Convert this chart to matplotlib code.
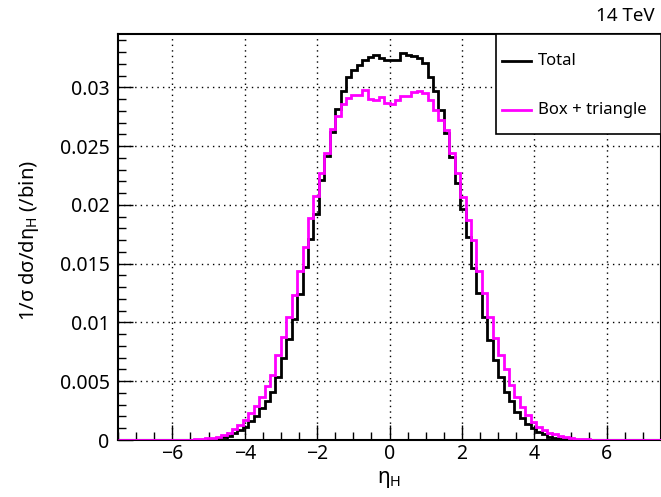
import numpy as np
import matplotlib
matplotlib.use("Agg")
import matplotlib.pyplot as plt
from matplotlib.ticker import MultipleLocator, FuncFormatter
from matplotlib.patches import Rectangle
from matplotlib.lines import Line2D

plt.rcParams['font.family'] = ['Noto Sans', 'DejaVu Sans']
plt.rcParams['mathtext.fontset'] = 'custom'
plt.rcParams['mathtext.rm'] = 'Noto Sans'

# histogram binning
eta_min, eta_max, n_bins = -7.5, 7.5, 100

total = [0, 0, 0, 0, 0, 0, 0, 0, 0, 0,
         0.000005, 0.00001, 0.00001, 0.00002, 0.00002, 0.00004, 0.00006, 0.0001, 0.00015, 0.00023,
         0.00037, 0.00057, 0.00085, 0.0011, 0.0016, 0.0020, 0.0027, 0.0033, 0.0041, 0.0054,
         0.0070, 0.0086, 0.0103, 0.0124, 0.0147, 0.0171, 0.0192, 0.0221, 0.0242, 0.0262,
         0.0282, 0.0297, 0.0309, 0.0315, 0.0319, 0.0323, 0.0326, 0.0328, 0.0325, 0.0323,
         0.0323, 0.0323, 0.0329, 0.0328, 0.0327, 0.0325, 0.0321, 0.0309, 0.0297, 0.0281,
         0.0261, 0.0241, 0.0219, 0.0197, 0.0173, 0.0146, 0.0125, 0.0105, 0.0085, 0.0068,
         0.0054, 0.0041, 0.0033, 0.0024, 0.00185, 0.00136, 0.0010, 0.0007, 0.00048, 0.00028,
         0.00018, 0.00012, 0.00008, 0.00005, 0.00003, 0.00002, 0.00001, 0.00001, 0, 0,
         0, 0, 0, 0, 0, 0, 0, 0, 0, 0]

box_triangle = [0, 0, 0, 0, 0, 0, 0, 0, 0, 0,
                0.00001, 0.00001, 0.00002, 0.00004, 0.00006, 0.00009, 0.00013, 0.0002, 0.00028, 0.00043,
                0.00062, 0.0009, 0.0013, 0.0017, 0.0023, 0.0029, 0.0037, 0.0046, 0.0055, 0.0072,
                0.0088, 0.0105, 0.0123, 0.0144, 0.01645, 0.0189, 0.0208, 0.0227, 0.0244, 0.0265,
                0.0276, 0.0286, 0.0291, 0.0294, 0.0294, 0.0298, 0.0290, 0.0289, 0.0292, 0.0287,
                0.0286, 0.0289, 0.0293, 0.0293, 0.0296, 0.0297, 0.0295, 0.0289, 0.0281, 0.0272,
                0.0264, 0.0244, 0.0227, 0.0207, 0.0187, 0.0170, 0.0144, 0.0125, 0.0105, 0.0087,
                0.0072, 0.0060, 0.0047, 0.0037, 0.0028, 0.0021, 0.00156, 0.00113, 0.00085, 0.00062,
                0.00048, 0.00034, 0.00023, 0.00016, 0.00011, 0.00007, 0.00005, 0.00003, 0.00002, 0.00001,
                0, 0, 0, 0, 0, 0, 0, 0, 0, 0]

labels = ["Total", "Box + triangle"]
colors = ["black", "#ff00ff"]
title_text = "14 TeV"

edges = np.linspace(eta_min, eta_max, n_bins + 1)

W, H = 661, 497
fig = plt.figure(figsize=(W / 100, H / 100), dpi=100)
ax = fig.add_axes([118 / W, 1 - 440 / H, 1 - 118 / W, (440 - 34) / H])

ax.stairs(total, edges, color=colors[0], lw=2.0, zorder=3)
ax.stairs(box_triangle, edges, color=colors[1], lw=2.0, zorder=4)

ax.set_xlim(eta_min, eta_max)
ax.set_ylim(0, 0.03455)

ax.xaxis.set_major_locator(MultipleLocator(2))
ax.xaxis.set_minor_locator(MultipleLocator(0.5))
ax.yaxis.set_major_locator(MultipleLocator(0.005))
ax.yaxis.set_minor_locator(MultipleLocator(0.001))
ax.yaxis.set_major_formatter(FuncFormatter(lambda v, p: "%g" % round(v, 4)))
ax.xaxis.set_major_formatter(FuncFormatter(lambda v, p: ("%g" % v).replace("-", "\u2212")))

ax.tick_params(which='both', direction='in', top=False, right=False, labelsize=14, width=1.0)
ax.tick_params(which='major', length=11)
ax.tick_params(axis='y', which='major', pad=6)
ax.tick_params(axis='x', which='major', pad=3)
ax.tick_params(which='minor', length=5.5)
for s in ax.spines.values():
    s.set_linewidth(1.5)

ax.grid(True, which='major', color='black', linestyle=(0, (1, 3)), linewidth=1.0, zorder=0)
ax.set_axisbelow(True)

ax.set_xlabel(r"η$_\mathregular{H}$", fontsize=15)
ax.xaxis.set_label_coords(0.5, -(469 - 440) / (440 - 34))
ax.set_ylabel(r"1/σ dσ/dη$_\mathregular{H}$ (/bin)", fontsize=14.5)
ax.yaxis.set_label_coords(-(118 - 41) / (W - 118), 0.49)

fig.text(655 / W, 1 - 16 / H, title_text, ha='right', va='center', fontsize=13.5)

# legend box (drawn in figure pixel layout)
fig.patches.append(Rectangle((496 / W, 1 - 134 / H), 1 - 496 / W, 100 / H,
                             transform=fig.transFigure, facecolor='white',
                             edgecolor='black', linewidth=1.2, zorder=10))
for i, (lab, col) in enumerate(zip(labels, colors)):
    yy = 1 - (61 + 49 * i) / H
    fig.lines.append(Line2D([502 / W, 531 / W], [yy, yy], transform=fig.transFigure,
                            color=col, lw=2.0, zorder=11))
    fig.text(538 / W, yy, lab, ha='left', va='center', fontsize=12, zorder=11)

fig.savefig("out.png", dpi=100)
